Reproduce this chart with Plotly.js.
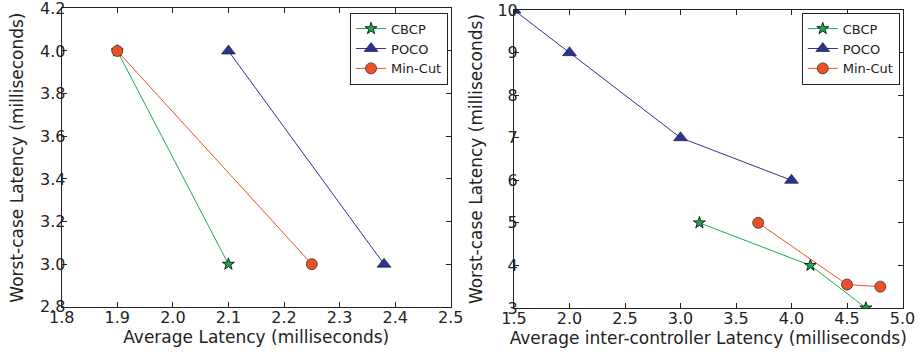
<!DOCTYPE html>
<html><head><meta charset="utf-8">
<script src="https://cdn.plot.ly/plotly-3.0.1.min.js"></script>
<style>html,body{margin:0;padding:0;background:#fff}#c{width:920px;height:361px}</style>
</head><body><div id="c"></div>
<script>
// Left chart data
const seriesNames = ["CBCP", "POCO", "Min-Cut"];
const leftCbcpX = [1.9, 2.1];
const leftCbcpY = [4.0, 3.0];
const leftPocoX = [2.1, 2.38];
const leftPocoY = [4.0, 3.0];
const leftMinCutX = [1.9, 2.25];
const leftMinCutY = [4.0, 3.0];
// Right chart data
const rightCbcpX = [3.17, 4.17, 4.67];
const rightCbcpY = [5, 4, 3];
const rightPocoX = [1.5, 2.0, 3.0, 4.0];
const rightPocoY = [10, 9, 7, 6];
const rightMinCutX = [3.7, 4.5, 4.8];
const rightMinCutY = [5, 3.55, 3.5];
// Tick labels
const leftXTicks = [1.8, 1.9, 2.0, 2.1, 2.2, 2.3, 2.4, 2.5];
const leftYTicks = [2.8, 3.0, 3.2, 3.4, 3.6, 3.8, 4.0, 4.2];
const rightXTicks = [1.5, 2.0, 2.5, 3.0, 3.5, 4.0, 4.5, 5.0];
const rightYTicks = [3, 4, 5, 6, 7, 8, 9, 10];

const green = "#1fa84f", blue = "#2a3592", orange = "#f04e23";
const styles = [
  {line: {color: green, width: 1}, marker: {symbol: "star", size: 9, color: green, line: {color: "#000", width: 0.8}}},
  {line: {color: blue, width: 1}, marker: {symbol: "triangle-up", size: 12, color: blue, line: {color: "#111", width: 0.6}}},
  {line: {color: orange, width: 1}, marker: {symbol: "circle", size: 11, color: orange, line: {color: "#333", width: 0.8}}}
];
const leftData = [[leftCbcpX, leftCbcpY], [leftPocoX, leftPocoY], [leftMinCutX, leftMinCutY]];
const rightData = [[rightCbcpX, rightCbcpY], [rightPocoX, rightPocoY], [rightMinCutX, rightMinCutY]];
const traces = [];
leftData.forEach((d, i) => traces.push(Object.assign({type: "scatter", mode: "lines+markers", name: seriesNames[i], x: d[0], y: d[1], xaxis: "x", yaxis: "y", legend: "legend"}, styles[i])));
rightData.forEach((d, i) => traces.push(Object.assign({type: "scatter", mode: "lines+markers", name: seriesNames[i], x: d[0], y: d[1], xaxis: "x2", yaxis: "y2", legend: "legend2"}, styles[i])));

const font = {family: "DejaVu Sans, sans-serif", size: 16, color: "#222"};
const tfont = {family: "DejaVu Sans, sans-serif", size: 17, color: "#222"};
const lgfont = {family: "DejaVu Sans, sans-serif", size: 13, color: "#222"};
const axBase = {showline: true, linecolor: "#222", linewidth: 1, mirror: "allticks", ticks: "inside", ticklen: 5, tickcolor: "#222", showgrid: false, zeroline: false, tickfont: font, ticklabeloverflow: "allow"};
const xBase = Object.assign({}, axBase, {ticklabelstandoff: -4});
const yBase = Object.assign({}, axBase, {ticklabelstandoff: -8});
const lfmt = v => v.toFixed(1);
const layout = {
  width: 920, height: 361, margin: {l: 0, r: 0, t: 0, b: 0},
  paper_bgcolor: "#fff", plot_bgcolor: "#fff", font: font,
  xaxis: Object.assign({}, xBase, {domain: [0.067, 0.49], range: [1.7999, 2.5001], tickvals: leftXTicks, ticktext: leftXTicks.map(lfmt), title: {text: "Average Latency (milliseconds)", font: tfont, standoff: 2}, anchor: "y"}),
  yaxis: Object.assign({}, yBase, {domain: [0.150, 0.977], range: [2.7999, 4.2001], tickvals: leftYTicks, ticktext: leftYTicks.map(lfmt), title: {text: "Worst-case Latency (milliseconds)", font: tfont, standoff: 12}, anchor: "x"}),
  xaxis2: Object.assign({}, xBase, {domain: [0.5587, 0.981], range: [1.4999, 5.0001], tickvals: rightXTicks, ticktext: rightXTicks.map(lfmt), title: {text: "Average inter-controller Latency (milliseconds)", font: tfont, standoff: 2}, anchor: "y2"}),
  yaxis2: Object.assign({}, yBase, {domain: [0.147, 0.972], range: [2.9999, 10.0001], tickvals: rightYTicks, ticktext: rightYTicks.map(String), title: {text: "Worst-case Latency (milliseconds)", font: tfont, standoff: 10}, anchor: "x2"}),
  legend: {x: 0.487, y: 0.965, xanchor: "right", yanchor: "top", bordercolor: "#222", borderwidth: 1, bgcolor: "#fff", font: lgfont, tracegroupgap: 0, itemwidth: 30},
  legend2: {x: 0.978, y: 0.965, xanchor: "right", yanchor: "top", bordercolor: "#222", borderwidth: 1, bgcolor: "#fff", font: lgfont, tracegroupgap: 0, itemwidth: 30},
  showlegend: true
};
Plotly.newPlot("c", traces, layout, {displayModeBar: false, staticPlot: true});
</script></body></html>
